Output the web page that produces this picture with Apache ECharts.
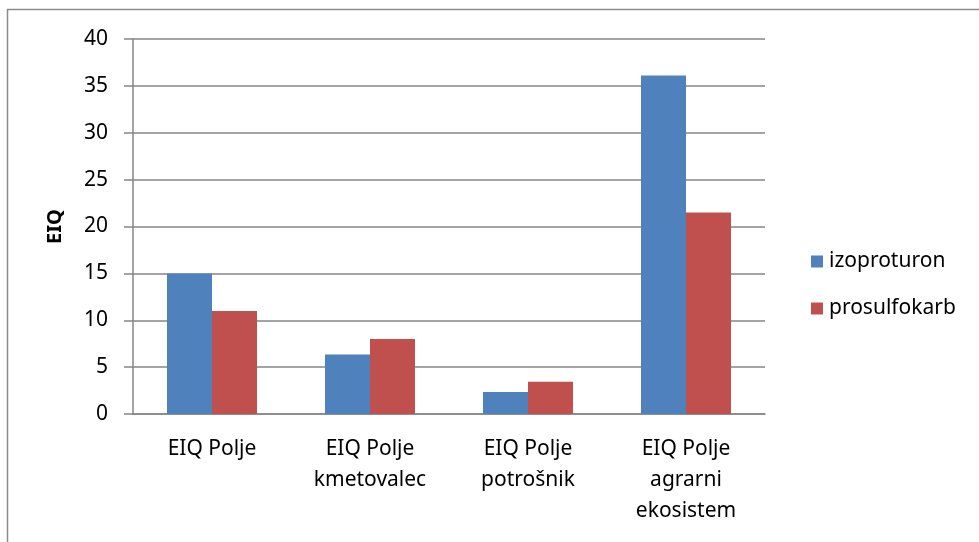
<!DOCTYPE html>
<html>
<head>
<meta charset="utf-8">
<style>
  html, body {
    margin: 0;
    padding: 0;
    background: #fff;
  }
  #myChart {
    width: 979px;
    height: 542px;
  }
</style>
<script src="https://cdn.jsdelivr.net/npm/echarts@6/dist/echarts.min.js"></script>
</head>
<body>
<div id="myChart"></div>
<script>
const categories = [
  'EIQ Polje',
  'EIQ Polje\nkmetovalec',
  'EIQ Polje\npotrošnik',
  'EIQ Polje\nagrarni\nekosistem',
]
const izoproturon = [15, 6.35, 2.35, 36.1]
const prosulfokarb = [11, 8, 3.45, 21.5]
const yTicks = { min: 0, max: 40, interval: 5 }

const font = 'Noto Sans'
const gridColor = '#868686'

let myChart = echarts.init(document.getElementById('myChart'))
myChart.setOption({
  animation: false,
  textStyle: { fontFamily: font },
  // rahmen okoli grafa
  graphic: [
    {
      type: 'rect',
      shape: { x: 7.5, y: 9.5, width: 1000, height: 600 },
      style: { fill: 'none', stroke: '#8c8c8c', lineWidth: 1.5 },
      silent: true,
    },
  ],
  grid: {
    left: 133,
    right: 214,
    top: 39,
    bottom: 128,
    containLabel: false,
  },
  legend: {
    orient: 'vertical',
    left: 806,
    top: 246,
    itemWidth: 12,
    itemHeight: 12,
    itemGap: 26,
    icon: 'rect',
    textStyle: { fontSize: 21, color: '#000', fontFamily: font, padding: [0, 0, 0, 1] },
    data: ['izoproturon', 'prosulfokarb'],
  },
  xAxis: {
    type: 'category',
    data: categories,
    axisTick: { show: false },
    axisLine: { lineStyle: { color: gridColor, width: 1.5 } },
    axisLabel: {
      color: '#000',
      fontSize: 21,
      lineHeight: 31,
      margin: 20,
      interval: 0,
      fontFamily: font,
    },
  },
  yAxis: {
    type: 'value',
    min: yTicks.min,
    max: yTicks.max,
    interval: yTicks.interval,
    name: 'EIQ',
    nameLocation: 'middle',
    nameGap: 68,
    nameRotate: 90,
    nameTextStyle: { fontSize: 20, fontWeight: 'bold', color: '#000', fontFamily: font },
    axisLine: { show: true, lineStyle: { color: gridColor, width: 1.5 } },
    axisTick: { show: true, length: 9, lineStyle: { color: gridColor, width: 1.5 } },
    axisLabel: { color: '#000', fontSize: 21, margin: 25, fontFamily: font },
    splitLine: { lineStyle: { color: gridColor, width: 1.5 } },
  },
  series: [
    {
      name: 'izoproturon',
      type: 'bar',
      data: izoproturon,
      barWidth: 45,
      barGap: '0%',
      itemStyle: { color: '#4F81BD' },
    },
    {
      name: 'prosulfokarb',
      type: 'bar',
      data: prosulfokarb,
      barWidth: 45,
      barGap: '0%',
      itemStyle: { color: '#C0504D' },
    },
  ],
})
</script>
</body>
</html>
